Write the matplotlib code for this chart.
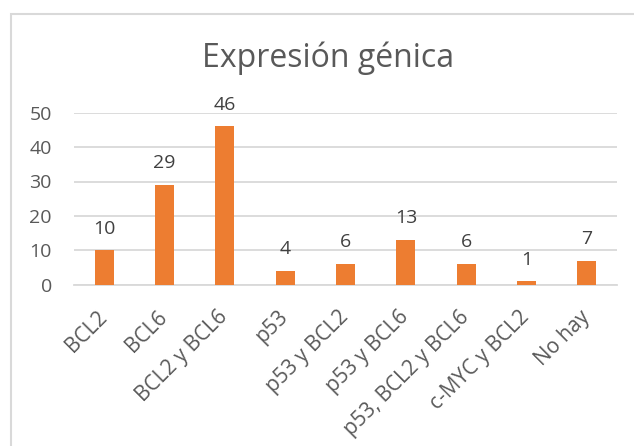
import matplotlib
matplotlib.use("Agg")
import matplotlib.pyplot as plt
from matplotlib.patches import Rectangle
from matplotlib.transforms import ScaledTranslation

categories = ["BCL2", "BCL6", "BCL2 y BCL6", "p53", "p53 y BCL2", "p53 y BCL6",
              "p53, BCL2 y BCL6", "c-MYC y BCL2", "No hay"]
counts = [10, 29, 46, 4, 6, 13, 6, 1, 7]
yticks = [0, 10, 20, 30, 40, 50]

plt.rcParams["font.family"] = ["Open Sans", "DejaVu Sans"]
txt = "#595959"
grid = "#D9D9D9"

fig = plt.figure(figsize=(6.34, 4.46), dpi=100)
ax = fig.add_axes([74/634, 1 - 284.7/446, 543/634, 172/446])

x = range(len(categories))
ax.bar(x, counts, width=0.315, color="#ED7D31", zorder=3)
for i, v in enumerate(counts):
    ax.annotate(str(v), (i, v), xytext=(0, 12), textcoords="offset points",
                ha="center", va="baseline", fontsize=14, color="#404040")

ax.set_xlim(-0.5, len(categories) - 0.5)
ax.set_ylim(0, 50)
ax.set_yticks(yticks)
ax.set_yticklabels([str(t) for t in yticks], fontsize=14, color=txt)
ax.set_xticks(list(x))
ax.set_xticklabels(categories, rotation=45, ha="right", va="center",
                   rotation_mode="anchor", fontsize=15, color=txt)
shift = ScaledTranslation(9/100, 0, fig.dpi_scale_trans)
for lab in ax.get_xticklabels():
    lab.set_transform(lab.get_transform() + shift)
ax.tick_params(axis="both", length=0)
ax.tick_params(axis="y", pad=16)
ax.tick_params(axis="x", pad=21)
ax.yaxis.grid(True, color=grid, linewidth=1.3, zorder=0)
for s in ["top", "right", "left"]:
    ax.spines[s].set_visible(False)
ax.spines["bottom"].set_color(grid)
ax.spines["bottom"].set_linewidth(1.3)

fig.text(328/634, 1 - 66.7/446, "Expresión génica", ha="center", va="baseline",
         fontsize=23, color=txt)

fig.patches.append(Rectangle((11/634, -0.1), 1.2, 1.1 - 14/446,
                             transform=fig.transFigure, fill=False,
                             edgecolor=grid, linewidth=1.5))

fig.savefig("out.png", dpi=100)
